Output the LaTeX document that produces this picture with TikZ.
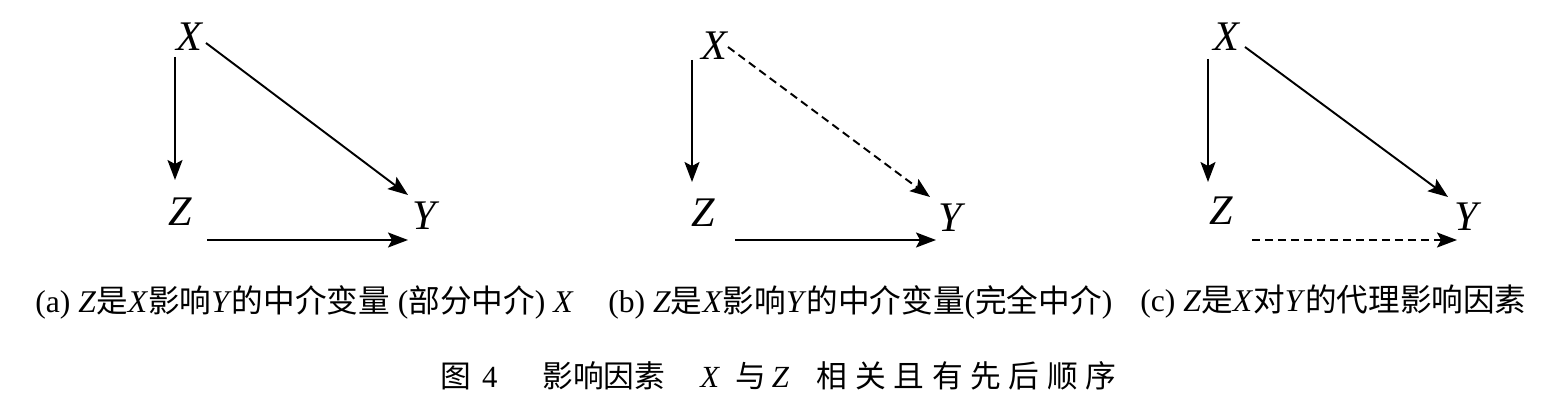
\documentclass[tikz,border=0pt]{standalone}
\usepackage{fontspec}
\setmainfont{Liberation Serif}
\newfontfamily\cjk{Noto Sans CJK SC}
\newfontfamily\cjkwide[LetterSpace=25]{Noto Sans CJK SC}
\usetikzlibrary{arrows.meta,calc}

\begin{document}
\begin{tikzpicture}[x=0.02cm,y=-0.02cm]
    \tikzstyle{var}=[inner sep=0pt, font=\fontsize{24}{28}\selectfont\itshape]
    \tikzstyle{arr}=[line width=1.1pt, -{Stealth[length=0.4cm,width=0.3cm,inset=0.08cm]}]
    \tikzstyle{dash arr}=[arr, dash pattern=on 0.16cm off 0.1cm]
    \tikzstyle{captxt}=[inner sep=0pt, anchor=west, font=\fontsize{18}{22}\selectfont]
    \useasboundingbox (0,0) rectangle (1545,415);
    % (a) partial mediation
    \node[var] (xa) at (189,37) {X};
    \node[var] (za) at (180,212) {Z};
    \node[var] (ya) at (424,216) {Y};
    \draw[arr] ($(xa)+(-14,20)$) -- ($(za)+(-5,-32)$);
    \draw[arr] ($(xa)+(17,6)$) -- ($(ya)+(-16,-21)$);
    \draw[arr] ($(za)+(27,28)$) -- ($(ya)+(-16,24)$);
    % (b) full mediation
    \node[var] (xb) at (714,46) {X};
    \node[var] (zb) at (703,213) {Z};
    \node[var] (yb) at (950,218) {Y};
    \draw[arr] ($(xb)+(-22,14)$) -- ($(zb)+(-11,-31)$);
    \draw[dash arr] ($(xb)+(14,1)$) -- ($(yb)+(-20,-21)$);
    \draw[arr] ($(zb)+(32,27)$) -- ($(yb)+(-14,22)$);
    % (c) proxy
    \node[var] (xc) at (1226,37) {X};
    \node[var] (zc) at (1221,211) {Z};
    \node[var] (yc) at (1466,217) {Y};
    \draw[arr] ($(xc)+(-18,22)$) -- ($(zc)+(-13,-29)$);
    \draw[arr] ($(xc)+(19,10)$) -- ($(yc)+(-18,-20)$);
    \draw[dash arr] ($(zc)+(31,29)$) -- ($(yc)+(-9,23)$);
    % captions
    \node[captxt] (capa) at (35,302) {(a) \textit{Z}{\cjk 是}\textit{X}{\cjk 影响}\textit{Y}{\cjk 的中介变量} ({\cjk 部分中介}) \textit{X}};
    \node[captxt] (capb) at (608,302) {(b) \textit{Z}{\cjk 是}\textit{X}{\cjk 影响}\textit{Y}{\cjk 的中介变量}({\cjk 完全中介})};
    \node[captxt] (capc) at (1140,302) {(c) \textit{Z}{\cjk 是}\textit{X}{\cjk 对}\textit{Y}{\cjk 的代理影响因素}};
    \node[captxt, font=\fontsize{17.5}{21}\selectfont] (title) at (440,376)
        {{\cjk 图}\hspace{0.22cm}4\hspace{0.9cm}{\cjk 影响因素}\hspace{0.7cm}\textit{X}\hspace{0.3cm}{\cjk 与}\hspace{0.12cm}\textit{Z}\hspace{0.55cm}{\cjkwide 相关且有先后顺序}};
\end{tikzpicture}
\end{document}
